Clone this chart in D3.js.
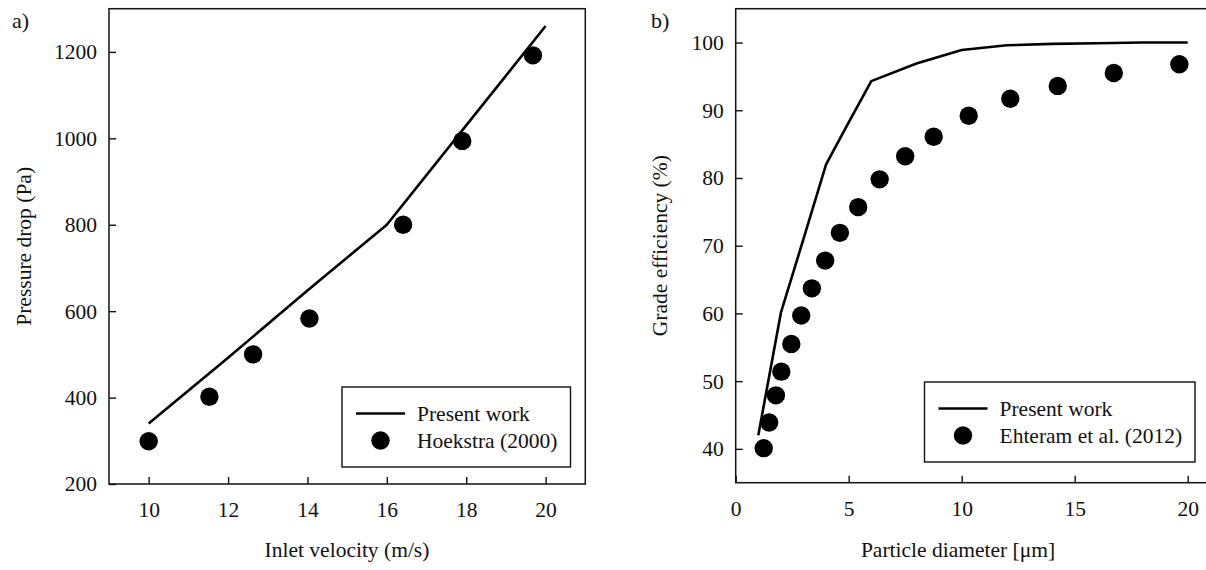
<!DOCTYPE html>
<html>
<head>
<meta charset="utf-8">
<script src="https://cdn.jsdelivr.net/npm/d3@7"></script>
<style>
  html, body { margin: 0; padding: 0; background: #fff; }
  svg { display: block; }
  svg text { font-family: "Liberation Serif", "Tinos", "Times New Roman", "DejaVu Serif", serif; fill: #111; }
</style>
</head>
<body>
<svg id="chart" width="1206" height="570"></svg>
<script>
// ---- panel a: pressure drop vs inlet velocity ----
const velocityModel = [10, 12, 14, 16, 18, 20];
const pressureModel = [340, 492, 648, 800, 1030, 1260];
const velocityExp = [10.0, 11.53, 12.63, 14.05, 16.41, 17.9, 19.68];
const pressureExp = [299, 402, 500, 583, 800, 994, 1192];
const ticksA_x = [10, 12, 14, 16, 18, 20];
const ticksA_y = [200, 400, 600, 800, 1000, 1200];

// ---- panel b: grade efficiency vs particle diameter ----
const diameterModel = [1, 2, 3, 4, 5, 6, 8, 10, 12, 14, 16, 18, 20];
const efficiencyModel = [42, 60.1, 71, 82, 88.2, 94.3, 96.9, 98.9, 99.6, 99.8, 99.9, 100, 100];
const diameterExp = [1.24, 1.48, 1.78, 2.02, 2.46, 2.9, 3.37, 3.96, 4.61, 5.42, 6.37, 7.5, 8.76, 10.31, 12.15, 14.25, 16.73, 19.63];
const efficiencyExp = [40.1, 43.9, 47.9, 51.4, 55.5, 59.7, 63.7, 67.8, 71.9, 75.7, 79.8, 83.2, 86.1, 89.2, 91.7, 93.6, 95.5, 96.8];
const ticksB_x = [0, 5, 10, 15, 20];
const ticksB_y = [40, 50, 60, 70, 80, 90, 100];

const FONT = 21.5;
const SERIF = '"Liberation Serif", "Tinos", "Times New Roman", "DejaVu Serif", serif';
const svg = d3.select("#chart");

function drawPanel(cfg) {
  const { x, y } = cfg;
  const g = svg.append("g").attr("font-family", SERIF);
  const [x0, x1] = x.range();
  const [yb, yt] = y.range();

  const ax = g.append("g")
    .attr("transform", `translate(0,${yb})`)
    .call(d3.axisBottom(x).tickValues(cfg.xTicks).tickSize(-7).tickPadding(18).tickFormat(d3.format("d")));
  const ay = g.append("g")
    .attr("transform", `translate(${x0},0)`)
    .call(d3.axisLeft(y).tickValues(cfg.yTicks).tickSize(-7).tickPadding(12).tickFormat(d3.format("d")));
  [ax, ay].forEach((a) => {
    a.attr("font-family", SERIF).attr("font-size", FONT);
    a.select(".domain").remove();
    a.selectAll(".tick line").attr("stroke", "#111").attr("stroke-width", 1.4);
    a.selectAll(".tick text").attr("fill", "#111");
  });

  // frame (panel b runs off the right edge)
  g.append("rect")
    .attr("x", x0).attr("y", yt)
    .attr("width", x1 - x0).attr("height", yb - yt)
    .attr("fill", "none").attr("stroke", "#111").attr("stroke-width", 1.5);

  // model line
  const line = d3.line().x((d) => x(d[0])).y((d) => y(d[1]));
  g.append("path")
    .datum(d3.zip(cfg.lineX, cfg.lineY))
    .attr("d", line)
    .attr("fill", "none").attr("stroke", "#000").attr("stroke-width", 2.6)
    .attr("stroke-linejoin", "round");

  // experiment points
  g.selectAll("circle.pt")
    .data(d3.zip(cfg.ptX, cfg.ptY))
    .enter().append("circle")
    .attr("class", "pt")
    .attr("cx", (d) => x(d[0])).attr("cy", (d) => y(d[1]))
    .attr("r", 9.2).attr("fill", "#000");

  // titles
  g.append("text")
    .attr("x", cfg.xTitleX)
    .attr("y", 557)
    .attr("text-anchor", "middle")
    .attr("font-size", FONT)
    .text(cfg.xTitle);
  g.append("text")
    .attr("transform", `translate(${cfg.yTitleX},${(yb + yt) / 2}) rotate(-90)`)
    .attr("text-anchor", "middle")
    .attr("dy", "0.35em")
    .attr("font-size", FONT)
    .text(cfg.yTitle);
  g.append("text")
    .attr("x", cfg.tagX).attr("y", 28)
    .attr("font-size", 22)
    .text(cfg.tag);

  // legend
  const L = cfg.legend;
  const lg = g.append("g");
  lg.append("rect")
    .attr("x", L.x).attr("y", L.y).attr("width", L.w).attr("height", L.h)
    .attr("fill", "#fff").attr("stroke", "#111").attr("stroke-width", 1.4);
  lg.append("line")
    .attr("x1", L.x + 14).attr("x2", L.x + 63)
    .attr("y1", L.y + 26.5).attr("y2", L.y + 26.5)
    .attr("stroke", "#000").attr("stroke-width", 2.6);
  lg.append("circle")
    .attr("cx", L.x + 38.5).attr("cy", L.y + 53.5).attr("r", 9.2).attr("fill", "#000");
  lg.append("text")
    .attr("x", L.x + 75).attr("y", L.y + 33.5)
    .attr("font-size", FONT).text("Present work");
  lg.append("text")
    .attr("x", L.x + 75).attr("y", L.y + 60.5)
    .attr("font-size", FONT).text(L.label);
}

drawPanel({
  x: d3.scaleLinear().domain([9, 21]).range([109, 585.3]),
  y: d3.scaleLinear().domain([200, 1300]).range([484, 8.7]),
  xTicks: ticksA_x, yTicks: ticksA_y,
  lineX: velocityModel, lineY: pressureModel,
  ptX: velocityExp, ptY: pressureExp,
  xTitle: "Inlet velocity (m/s)", xTitleX: 347,
  yTitle: "Pressure drop (Pa)", yTitleX: 23,
  tag: "a)", tagX: 12,
  legend: { x: 342, y: 387, w: 228.5, h: 80, label: "Hoekstra (2000)" }
});

drawPanel({
  x: d3.scaleLinear().domain([0, 21]).range([735.7, 1210.3]),
  y: d3.scaleLinear().domain([35, 105]).range([482.7, 8.7]),
  xTicks: ticksB_x, yTicks: ticksB_y,
  lineX: diameterModel, lineY: efficiencyModel,
  ptX: diameterExp, ptY: efficiencyExp,
  xTitle: "Particle diameter [\u03bcm]", xTitleX: 958,
  yTitle: "Grade efficiency (%)", yTitleX: 659,
  tag: "b)", tagX: 651,
  legend: { x: 924.5, y: 382, w: 270.5, h: 80, label: "Ehteram et al. (2012)" }
});
</script>
</body>
</html>
